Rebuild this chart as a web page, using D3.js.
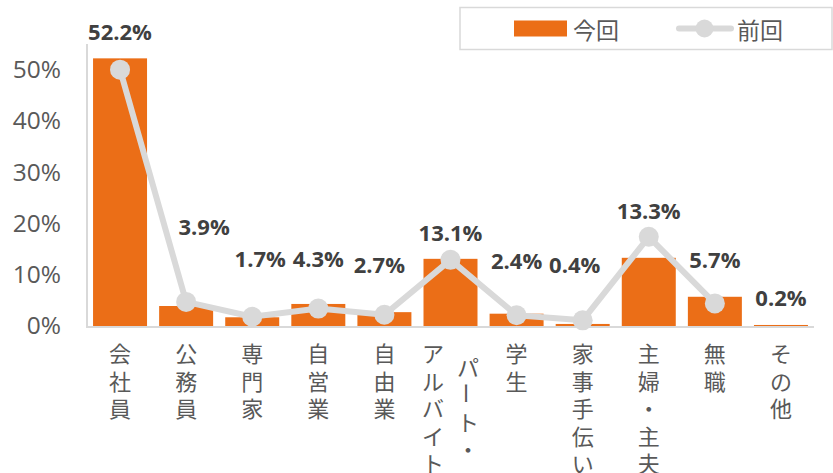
<!DOCTYPE html>
<html>
<head>
<meta charset="utf-8">
<script src="https://cdn.jsdelivr.net/npm/d3@7"></script>
<style>
  body { margin: 0; background: #fff; }
  svg { display: block; }
</style>
</head>
<body>
<svg id="chart"></svg>
<script>
// data
var categories = ["会社員", "公務員", "専門家", "自営業", "自由業", "パート・アルバイト", "学生", "家事手伝い", "主婦・主夫", "無職", "その他"]
var currentValues = [52.2, 3.9, 1.7, 4.3, 2.7, 13.1, 2.4, 0.4, 13.3, 5.7, 0.2]
var previousValues = [50.0, 4.7, 1.8, 3.4, 2.2, 12.9, 2.1, 1.1, 17.4, 4.4, null]
var seriesNames = ["今回", "前回"]
var yTicks = [0, 10, 20, 30, 40, 50]

// where the value labels sit (value units + small x nudges), placed by hand in the original
var labelAt = [57.2, 19.3, 13.1, 13.1, 11.9, 18.0, 12.6, 11.8, 22.3, 12.9, 5.4]
var labelNudge = [0, 18, 8, 0, -5, 0, 0, -8, 0, 0, 0]

var dimensions = {
    width: 833,
    height: 473,
    margin: { top: 44, bottom: 147, left: 87, right: 19 }
}

var orange = "#eb6e17"
var gray = "#d9d9d9"
var textGray = "#595959"
var jpFont = "'Noto Sans CJK JP', 'Noto Sans', sans-serif"
var numFont = "'Open Sans', 'Noto Sans', sans-serif"

var svg = d3.select("#chart")
            .attr("width", dimensions.width)
            .attr("height", dimensions.height)

var xScale = d3.scaleBand()
                .domain(categories)
                .range([dimensions.margin.left, dimensions.width - dimensions.margin.right])
                .paddingInner(0.183)
                .paddingOuter(0.0915)

var yScale = d3.scaleLinear()
                .domain([0, 55])
                .range([dimensions.height - dimensions.margin.bottom, dimensions.margin.top])

var baseY = yScale(0)

// y axis labels
var yAxisgen = d3.axisLeft(yScale)
                 .tickValues(yTicks)
                 .tickSize(0)
                 .tickPadding(26)
                 .tickFormat(d => d + "%")

var yAxis = svg.append("g")
               .attr("transform", `translate(${dimensions.margin.left},0)`)
               .call(yAxisgen)
yAxis.select(".domain").remove()
yAxis.selectAll("text")
     .attr("fill", textGray)
     .style("font-family", numFont)
     .style("font-size", "24.5px")

// axis lines (drawn first so thin bars stay visible)
svg.append("line")
    .attr("x1", dimensions.margin.left).attr("x2", dimensions.margin.left)
    .attr("y1", yScale(55)).attr("y2", baseY + 2)
    .attr("stroke", gray).attr("stroke-width", 2)
svg.append("line")
    .attr("x1", dimensions.margin.left).attr("x2", dimensions.width - dimensions.margin.right)
    .attr("y1", baseY + 1).attr("y2", baseY + 1)
    .attr("stroke", gray).attr("stroke-width", 2)

// bars
svg.append("g").selectAll("rect")
    .data(currentValues)
    .enter()
    .append("rect")
    .attr("x", (d, i) => xScale(categories[i]))
    .attr("y", d => yScale(d))
    .attr("width", xScale.bandwidth())
    .attr("height", d => Math.max(1, baseY - yScale(d)))
    .attr("fill", orange)

// previous line
var cx = i => xScale(categories[i]) + xScale.bandwidth() / 2
var lineGen = d3.line()
                .defined(d => d !== null)
                .x((d, i) => cx(i))
                .y(d => yScale(d))

svg.append("path")
    .datum(previousValues)
    .attr("d", lineGen)
    .attr("fill", "none")
    .attr("stroke", gray)
    .attr("stroke-width", 6)
    .attr("stroke-linejoin", "round")

svg.append("g").selectAll("circle")
    .data(previousValues.map((d, i) => ({ v: d, i: i })).filter(d => d.v !== null))
    .enter()
    .append("circle")
    .attr("cx", d => cx(d.i))
    .attr("cy", d => yScale(d.v))
    .attr("r", 10)
    .attr("fill", gray)

// value labels
svg.append("g").selectAll("text")
    .data(currentValues)
    .enter()
    .append("text")
    .attr("x", (d, i) => cx(i) + labelNudge[i])
    .attr("y", (d, i) => yScale(labelAt[i]))
    .attr("dy", "0.35em")
    .attr("text-anchor", "middle")
    .attr("fill", "#404040")
    .style("font-family", numFont)
    .style("font-weight", "bold")
    .style("font-size", "22px")
    .text(d => d.toFixed(1) + "%")

// category labels, written vertically, one char per row
var step = 27.5
var colGap = 35
categories.forEach(function(name, i) {
    var cols = [name]
    if (name.length > 5 && name.indexOf("・") > -1) {
        var cut = name.indexOf("・") + 1
        cols = [name.slice(0, cut), name.slice(cut)]
    }
    var longest = d3.max(cols, c => c.length)
    var g = svg.append("g")
    cols.forEach(function(col, c) {
        // first column on the right (tategaki)
        var colX = cx(i) + (cols.length - 1) * colGap / 2 - c * colGap
        var startY = 352 + (longest - col.length) * step / 2
        Array.from(col).forEach(function(ch, k) {
            var t = g.append("text")
                .attr("text-anchor", "middle")
                .attr("dominant-baseline", "central")
                .attr("fill", textGray)
                .style("font-family", jpFont)
                .style("font-size", "22px")
                .text(ch)
            if (ch === "ー") {
                t.attr("transform", `translate(${colX},${startY + k * step}) rotate(90)`)
            } else {
                t.attr("x", colX).attr("y", startY + k * step)
            }
        })
    })
})

// legend
var legend = svg.append("g")
legend.append("rect")
    .attr("x", 460).attr("y", 7.5)
    .attr("width", 372).attr("height", 42)
    .attr("fill", "#fff")
    .attr("stroke", gray).attr("stroke-width", 1.5)

legend.append("rect")
    .attr("x", 514).attr("y", 20.5)
    .attr("width", 53).attr("height", 16)
    .attr("fill", orange)
legend.append("text")
    .attr("x", 573).attr("y", 28.5)
    .attr("dominant-baseline", "central")
    .attr("fill", textGray)
    .style("font-family", jpFont)
    .style("font-size", "23px")
    .text(seriesNames[0])

legend.append("line")
    .attr("x1", 679).attr("x2", 731)
    .attr("y1", 28.5).attr("y2", 28.5)
    .attr("stroke", gray).attr("stroke-width", 6)
    .attr("stroke-linecap", "round")
legend.append("circle")
    .attr("cx", 704.5).attr("cy", 28.5).attr("r", 9)
    .attr("fill", gray)
legend.append("text")
    .attr("x", 737).attr("y", 28.5)
    .attr("dominant-baseline", "central")
    .attr("fill", textGray)
    .style("font-family", jpFont)
    .style("font-size", "23px")
    .text(seriesNames[1])
</script>
</body>
</html>
